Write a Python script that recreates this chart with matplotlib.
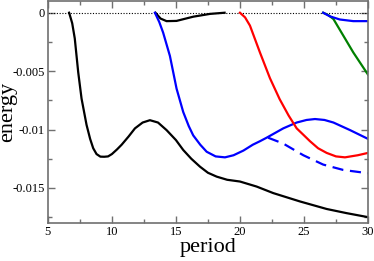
import matplotlib
matplotlib.use("Agg")
import matplotlib.pyplot as plt
from matplotlib.ticker import MultipleLocator

# data
black_x = [6.66, 6.9, 7.1, 7.37, 7.63, 8.02, 8.3, 8.54, 8.8, 9.1, 9.4, 9.7, 10.0, 10.4, 10.76, 11.3,
           11.8, 12.4, 12.97, 13.6, 14.27, 15.0, 15.57, 16.2, 16.88, 17.5, 18.18, 19.0, 20.0,
           21.3, 22.6, 24.7, 26.77, 28.3, 30.0]
black_y = [0.0, -0.0009, -0.0022, -0.0051, -0.00735, -0.0096, -0.0108, -0.0116, -0.0121, -0.01232,
           -0.01233, -0.0123, -0.0121, -0.0117, -0.0113, -0.0106, -0.0099, -0.0094, -0.0092, -0.0094,
           -0.01005, -0.0109, -0.01175, -0.0125, -0.01318, -0.0137, -0.01403, -0.0143, -0.01445,
           -0.01488, -0.01544, -0.01616, -0.0168, -0.01715, -0.0175]

black2_x = [13.4, 13.8, 14.27, 15.05, 16.35, 17.66, 18.8]
black2_y = [0.0, -0.0005, -0.00072, -0.0007, -0.00034, -0.0001, 0.0]

blue_x = [13.36, 13.7, 14.0, 14.53, 15.05, 15.57, 16.0, 16.35, 16.9, 17.4, 18.1, 18.83, 19.5,
          20.27, 21.0, 21.56, 22.08, 23.38, 24.43, 25.2, 25.86, 26.6, 27.3, 28.6, 30.0]
blue_y = [0.0, -0.0008, -0.0017, -0.0037, -0.0065, -0.0085, -0.0097, -0.0105, -0.0113, -0.0119,
          -0.0123, -0.01238, -0.0122, -0.0118, -0.0113, -0.011, -0.0107, -0.0099, -0.0094,
          -0.00918, -0.0091, -0.00918, -0.0094, -0.01005, -0.0108]

bluedash_x = [22.2, 23.38, 24.95, 26.5, 28.07, 30.0]
bluedash_y = [-0.0107, -0.0112, -0.0122, -0.013, -0.01346, -0.01374]

red_x = [20.0, 20.4, 20.78, 21.56, 22.34, 23.1, 23.8, 24.43, 25.0, 25.47, 26.1, 26.77, 27.5,
         28.2, 29.2, 30.0]
red_y = [0.0, -0.0004, -0.0011, -0.0034, -0.0056, -0.0074, -0.0088, -0.0099, -0.0105, -0.011,
         -0.0116, -0.012, -0.0123, -0.01238, -0.0122, -0.012]

green_x = [26.5, 26.9, 27.3, 28.07, 28.85, 30.0]
green_y = [0.0, -0.0002, -0.00054, -0.00196, -0.0034, -0.0053]

blue2_x = [26.5, 27.0, 27.8, 28.85, 30.0]
blue2_y = [0.0, -0.0003, -0.00058, -0.00072, -0.00072]

xticks = [5, 10, 15, 20, 25, 30]
yticks = [0, -0.005, -0.01, -0.015]
ytick_labels = ["0", "-0.005", "-0.01", "-0.015"]

plt.rcParams['font.family'] = ['Liberation Serif', 'DejaVu Serif']

fig = plt.figure(figsize=(3.74, 2.61), dpi=100)
ax = fig.add_axes([0.128, 0.1456, 0.856, 0.8504])

ax.axhline(0, color='black', lw=0.8, ls=(0, (1, 1.5)))
lw = 1.6
ax.plot(black_x, black_y, color='black', lw=lw)
ax.plot(black2_x, black2_y, color='black', lw=lw)
ax.plot(blue_x, blue_y, color='#0000ff', lw=lw)
ax.plot(bluedash_x, bluedash_y, color='#0000ff', lw=lw, ls=(0, (5, 3)))
ax.plot(red_x, red_y, color='#ff0000', lw=lw)
ax.plot(green_x, green_y, color='#008000', lw=lw)
ax.plot(blue2_x, blue2_y, color='#0000ff', lw=lw)

ax.set_xlim(5, 30)
ax.set_ylim(-0.018, 0.001)
ax.set_xticks(xticks)
ax.set_xticklabels([str(t) for t in xticks])
ax.set_yticks(yticks)
ax.set_yticklabels(ytick_labels)
ax.xaxis.set_minor_locator(MultipleLocator(2.5))
ax.yaxis.set_minor_locator(MultipleLocator(0.0025))
ax.tick_params(which='both', direction='in', top=True, right=True, color='#707070', labelsize=9, pad=2)
ax.tick_params(which='major', length=5, width=1)
ax.tick_params(which='minor', length=3, width=1)
for s in ax.spines.values():
    s.set_color('#707070')
    s.set_linewidth(1.2)

ax.set_xlabel('period', fontsize=16, labelpad=0)
fig.text(-0.004, 1 - 112 / 261, 'energy', fontsize=16, rotation=90, ha='left', va='center')

fig.savefig('out.png', dpi=100)
